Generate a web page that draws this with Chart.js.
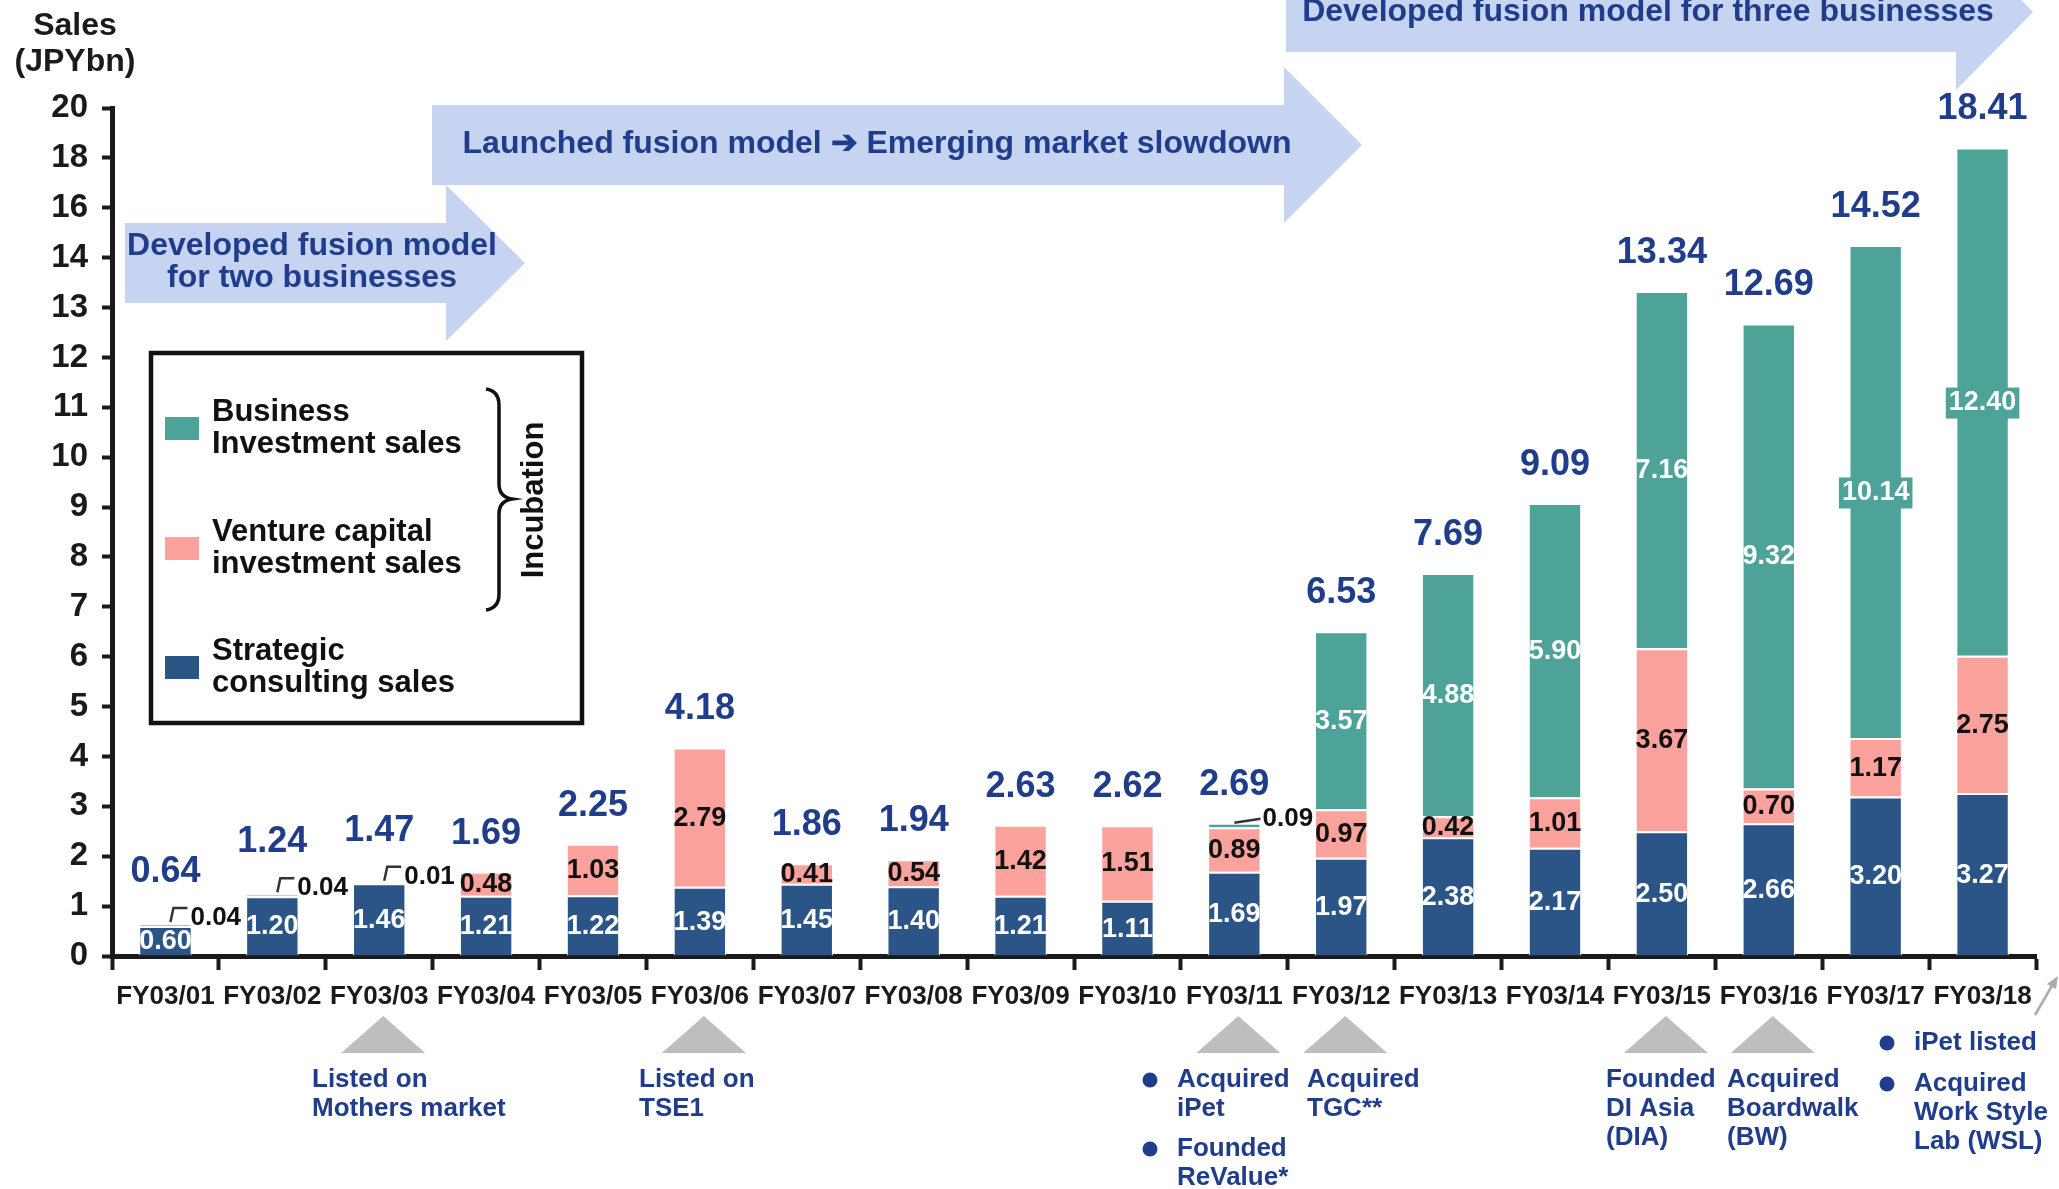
<!DOCTYPE html>
<html>
<head>
<meta charset="utf-8">
<title>Sales (JPYbn)</title>
<script src="https://cdn.jsdelivr.net/npm/chart.js@4.4.1/dist/chart.umd.min.js"></script>
<style>
  html, body { margin: 0; padding: 0; background: #ffffff; }
  #wrap { position: relative; width: 2059px; height: 1189px; }
</style>
</head>
<body>
<div id="wrap"><canvas id="chart-sales" width="2059" height="1189"></canvas></div>
<script>
// Sales by business line, JPY bn
const years = ['FY03/01', 'FY03/02', 'FY03/03', 'FY03/04', 'FY03/05', 'FY03/06', 'FY03/07', 'FY03/08', 'FY03/09',
  'FY03/10', 'FY03/11', 'FY03/12', 'FY03/13', 'FY03/14', 'FY03/15', 'FY03/16', 'FY03/17', 'FY03/18'];
const strategicSales = [0.60, 1.20, 1.46, 1.21, 1.22, 1.39, 1.45, 1.40, 1.21, 1.11, 1.69, 1.97, 2.38, 2.17, 2.50, 2.66, 3.20, 3.27];
const ventureSales = [0.04, 0.04, 0.01, 0.48, 1.03, 2.79, 0.41, 0.54, 1.42, 1.51, 0.89, 0.97, 0.42, 1.01, 3.67, 0.70, 1.17, 2.75];
const businessSales = [null, null, null, null, null, null, null, null, null, null, 0.09, 3.57, 4.88, 5.90, 7.16, 9.32, 10.14, 12.40];
const totalSales = [0.64, 1.24, 1.47, 1.69, 2.25, 4.18, 1.86, 1.94, 2.63, 2.62, 2.69, 6.53, 7.69, 9.09, 13.34, 12.69, 14.52, 18.41];

// axis runs 1 per step up to 14, then 2 per step
const yTicks = [0, 1, 2, 3, 4, 5, 6, 7, 8, 9, 10, 11, 12, 13, 14, 16, 18, 20];
const axisBreak = 14;

const milestoneYears = ['FY03/03', 'FY03/06', 'FY03/11', 'FY03/12', 'FY03/15', 'FY03/16'];
const phases = [
  ['Developed fusion model', 'for two businesses'],
  ['Launched fusion model \u2794 Emerging market slowdown'],
  ['Developed fusion model for three businesses']
];

const chartColors = {
  strategic: '#2B5587',
  venture: '#FBA29C',
  business: '#4DA397',
  navy: '#1F3D8A',
  ink: '#1A1A1A',
  arrow: '#C6D4F1',
  marker: '#BEBEBE'
};

const FONT = '"Liberation Sans", Arial, Helvetica, sans-serif';
function boldFont(size) { return 'bold ' + size + 'px ' + FONT; }

/**
 * Linear scale with a compressed top section
 */
const LinearScale = Chart.LinearScale || Chart.registry.getScale('linear');

function toAxisUnits(v) { return v <= axisBreak ? v : axisBreak + (v - axisBreak) / 2; }
function fromAxisUnits(u) { return u <= axisBreak ? u : axisBreak + (u - axisBreak) * 2; }

class BrokenLinearScale extends LinearScale {
  getPixelForValue(value) {
    if (value === null || isNaN(value)) return NaN;
    const lo = toAxisUnits(this.min);
    const span = toAxisUnits(this.max) - lo;
    return this.getPixelForDecimal((toAxisUnits(value) - lo) / span);
  }
  getValueForPixel(pixel) {
    const lo = toAxisUnits(this.min);
    const span = toAxisUnits(this.max) - lo;
    return fromAxisUnits(lo + this.getDecimalForPixel(pixel) * span);
  }
}
BrokenLinearScale.id = 'brokenLinear';
Chart.register(BrokenLinearScale);

/**
 * Shape helpers
 */
function drawBlockArrow(ctx, x0, xBase, xTip, yc, bodyHalf, headHalf) {
  ctx.beginPath();
  ctx.moveTo(x0, yc - bodyHalf);
  ctx.lineTo(xBase, yc - bodyHalf);
  ctx.lineTo(xBase, yc - headHalf);
  ctx.lineTo(xTip, yc);
  ctx.lineTo(xBase, yc + headHalf);
  ctx.lineTo(xBase, yc + bodyHalf);
  ctx.lineTo(x0, yc + bodyHalf);
  ctx.closePath();
  ctx.fillStyle = chartColors.arrow;
  ctx.fill();
}

function drawLines(ctx, lines, x, y, lineHeight) {
  lines.forEach((line, k) => ctx.fillText(line, x, y + k * lineHeight));
}

// Phase arrows behind the bars
const phasePlugin = {
  id: 'phaseArrows',
  beforeDatasetsDraw(chart) {
    const ctx = chart.ctx;
    ctx.save();
    drawBlockArrow(ctx, 125, 446, 525, 263, 40, 78);
    drawBlockArrow(ctx, 432, 1284, 1362, 145, 40, 78);
    drawBlockArrow(ctx, 1286, 1956, 2033, 12, 40, 78);

    ctx.fillStyle = chartColors.navy;
    ctx.font = boldFont(32);
    ctx.textAlign = 'center';
    ctx.textBaseline = 'middle';
    drawLines(ctx, phases[0], 312, 246, 32);
    drawLines(ctx, phases[1], 877, 144, 32);
    drawLines(ctx, phases[2], 1648, 12, 32);
    ctx.restore();
  }
};

// Segment values, totals and callouts for very small segments
const valueLabelPlugin = {
  id: 'valueLabels',
  afterDatasetsDraw(chart) {
    const ctx = chart.ctx;
    const labelColors = ['#FFFFFF', '#111111', '#FFFFFF'];
    const tops = [];
    const tiny = [];

    ctx.save();
    ctx.textAlign = 'center';
    ctx.textBaseline = 'middle';
    ctx.font = boldFont(27);

    chart.data.datasets.forEach((ds, d) => {
      const meta = chart.getDatasetMeta(d);
      meta.data.forEach((el, i) => {
        const v = ds.data[i];
        if (v === null || v === undefined) return;
        const p = el.getProps(['x', 'y', 'base', 'width'], true);
        if (tops[i] === undefined || p.y < tops[i].y) tops[i] = p;
        if (v < 0.1) {
          tiny.push({ i: i, d: d, v: v, p: p });
          return;
        }
        const cy = (p.y + p.base) / 2 + 1;
        const text = v.toFixed(2);
        const tw = ctx.measureText(text).width;
        // wide labels sit on a tab of the segment colour
        if (d === 2 && tw > p.width + 4) {
          ctx.fillStyle = chartColors.business;
          ctx.fillRect(p.x - tw / 2 - 3, cy - 15, tw + 6, 31);
        }
        ctx.fillStyle = labelColors[d];
        ctx.fillText(text, p.x, cy);
      });
    });

    // small segments get a pointer and an outside label
    const lifted = {};
    ctx.strokeStyle = '#333333';
    ctx.lineWidth = 2.5;
    ctx.textAlign = 'left';
    ctx.font = boldFont(26);
    tiny.forEach(t => {
      const p = t.p;
      const text = t.v.toFixed(2);
      ctx.fillStyle = '#111111';
      ctx.beginPath();
      if (t.d === 2) {
        ctx.moveTo(p.x, p.y);
        ctx.lineTo(p.x + p.width / 2, p.y - 4);
        ctx.stroke();
        ctx.fillText(text, p.x + p.width / 2 + 2, p.y - 4);
      } else {
        ctx.moveTo(p.x + 5, p.y - 2);
        ctx.lineTo(p.x + 8, p.y - 16);
        ctx.lineTo(p.x + 22, p.y - 16);
        ctx.stroke();
        ctx.fillText(text, p.x + 25, p.y - 6);
        lifted[t.i] = true;
      }
    });

    ctx.textAlign = 'center';
    ctx.font = boldFont(36);
    ctx.fillStyle = chartColors.navy;
    totalSales.forEach((total, i) => {
      const p = tops[i];
      const lift = lifted[i] ? 14 : 0;
      ctx.fillText(total.toFixed(2), p.x, p.y - 38 - lift);
    });
    ctx.restore();
  }
};

// Title, legend box and milestone notes
const decorPlugin = {
  id: 'decor',
  afterDraw(chart) {
    const ctx = chart.ctx;
    const xScale = chart.scales.x;
    ctx.save();

    // y axis title
    ctx.fillStyle = chartColors.ink;
    ctx.font = boldFont(32);
    ctx.textAlign = 'center';
    ctx.textBaseline = 'middle';
    ctx.fillText('Sales', 75, 26);
    ctx.fillText('(JPYbn)', 75, 62);

    // legend
    ctx.fillStyle = '#FFFFFF';
    ctx.fillRect(151, 353, 431, 370);
    ctx.strokeStyle = '#111111';
    ctx.lineWidth = 4.5;
    ctx.strokeRect(151, 353, 431, 370);

    const legendItems = [
      { color: chartColors.business, lines: ['Business', 'Investment sales'], y: 428 },
      { color: chartColors.venture, lines: ['Venture capital', 'investment sales'], y: 548 },
      { color: chartColors.strategic, lines: ['Strategic', 'consulting sales'], y: 667 }
    ];
    ctx.font = boldFont(31);
    ctx.textAlign = 'left';
    legendItems.forEach(item => {
      ctx.fillStyle = item.color;
      ctx.fillRect(165, item.y - 11, 34, 23);
      ctx.fillStyle = '#111111';
      drawLines(ctx, item.lines, 212, item.y - 16, 32);
    });

    // brace grouping the two investment lines
    ctx.strokeStyle = '#111111';
    ctx.lineWidth = 3.5;
    ctx.beginPath();
    ctx.moveTo(486, 389);
    ctx.quadraticCurveTo(499, 391, 499, 405);
    ctx.lineTo(499, 484);
    ctx.quadraticCurveTo(499, 497, 512, 499);
    ctx.quadraticCurveTo(499, 501, 499, 514);
    ctx.lineTo(499, 594);
    ctx.quadraticCurveTo(499, 608, 486, 610);
    ctx.stroke();

    ctx.save();
    ctx.translate(534, 500);
    ctx.rotate(-Math.PI / 2);
    ctx.textAlign = 'center';
    ctx.fillText('Incubation', 0, 0);
    ctx.restore();

    // milestone markers under the axis
    ctx.fillStyle = chartColors.marker;
    milestoneYears.forEach(year => {
      const cx = xScale.getPixelForValue(years.indexOf(year)) + 4;
      ctx.beginPath();
      ctx.moveTo(cx, 1016);
      ctx.lineTo(cx + 42, 1053);
      ctx.lineTo(cx - 42, 1053);
      ctx.closePath();
      ctx.fill();
    });

    const notes = [
      { x: 312, y: 1080, lines: ['Listed on', 'Mothers market'] },
      { x: 639, y: 1080, lines: ['Listed on', 'TSE1'] },
      { x: 1177, y: 1080, lines: ['Acquired', 'iPet'], bullet: true },
      { x: 1177, y: 1149, lines: ['Founded', 'ReValue*'], bullet: true },
      { x: 1307, y: 1080, lines: ['Acquired', 'TGC**'] },
      { x: 1606, y: 1080, lines: ['Founded', 'DI Asia', '(DIA)'] },
      { x: 1727, y: 1080, lines: ['Acquired', 'Boardwalk', '(BW)'] },
      { x: 1914, y: 1043, lines: ['iPet listed'], bullet: true },
      { x: 1914, y: 1084, lines: ['Acquired', 'Work Style', 'Lab (WSL)'], bullet: true }
    ];
    ctx.font = boldFont(26);
    ctx.textAlign = 'left';
    notes.forEach(note => {
      ctx.fillStyle = chartColors.navy;
      if (note.bullet) {
        ctx.beginPath();
        ctx.arc(note.x - 27, note.y, 7.5, 0, Math.PI * 2);
        ctx.fill();
      }
      drawLines(ctx, note.lines, note.x, note.y, 29);
    });

    // small pointer at the end of the axis
    ctx.strokeStyle = '#ABABAB';
    ctx.fillStyle = '#ABABAB';
    ctx.lineWidth = 2.5;
    ctx.beginPath();
    ctx.moveTo(2035, 1015);
    ctx.lineTo(2053, 984);
    ctx.stroke();
    ctx.beginPath();
    ctx.moveTo(2058, 976);
    ctx.lineTo(2047, 984);
    ctx.lineTo(2056, 989);
    ctx.closePath();
    ctx.fill();

    ctx.restore();
  }
};

function initSalesChart() {
  const canvas = document.getElementById('chart-sales');
  const barStyle = {
    borderColor: '#FFFFFF',
    borderWidth: { top: 2, left: 1, right: 1 },
    borderSkipped: 'start',
    barPercentage: 0.49,
    categoryPercentage: 1.0
  };

  return new Chart(canvas, {
    type: 'bar',
    data: {
      labels: years,
      datasets: [
        Object.assign({ label: 'Strategic consulting sales', data: strategicSales, backgroundColor: chartColors.strategic }, barStyle),
        Object.assign({ label: 'Venture capital investment sales', data: ventureSales, backgroundColor: chartColors.venture }, barStyle),
        Object.assign({ label: 'Business Investment sales', data: businessSales, backgroundColor: chartColors.business }, barStyle)
      ]
    },
    options: {
      responsive: false,
      animation: false,
      layout: { padding: { top: 108, right: 23, bottom: 173, left: 0 } },
      plugins: {
        legend: { display: false },
        tooltip: { enabled: false }
      },
      scales: {
        x: {
          stacked: true,
          border: { display: true, color: chartColors.ink, width: 5 },
          grid: {
            display: true,
            offset: true,
            drawOnChartArea: false,
            drawTicks: true,
            tickLength: 14,
            tickWidth: 4,
            tickColor: chartColors.ink
          },
          ticks: {
            autoSkip: false,
            maxRotation: 0,
            minRotation: 0,
            padding: 11,
            color: chartColors.ink,
            font: { family: FONT, size: 26, weight: 'bold' }
          },
          afterFit: function(scale) { scale.height = 60; }
        },
        y: {
          type: 'brokenLinear',
          stacked: true,
          min: 0,
          max: 20,
          border: { display: true, color: chartColors.ink, width: 5 },
          grid: {
            display: true,
            drawOnChartArea: false,
            drawTicks: true,
            tickLength: 10,
            tickWidth: 4,
            tickColor: chartColors.ink
          },
          ticks: {
            padding: 14,
            color: chartColors.ink,
            font: { family: FONT, size: 33, weight: 'bold' },
            callback: function(value) { return value; }
          },
          afterBuildTicks: function(scale) {
            scale.ticks = yTicks.map(v => ({ value: v }));
          },
          afterFit: function(scale) { scale.width = 112; }
        }
      }
    },
    plugins: [phasePlugin, valueLabelPlugin, decorPlugin]
  });
}

initSalesChart();
</script>
</body>
</html>
